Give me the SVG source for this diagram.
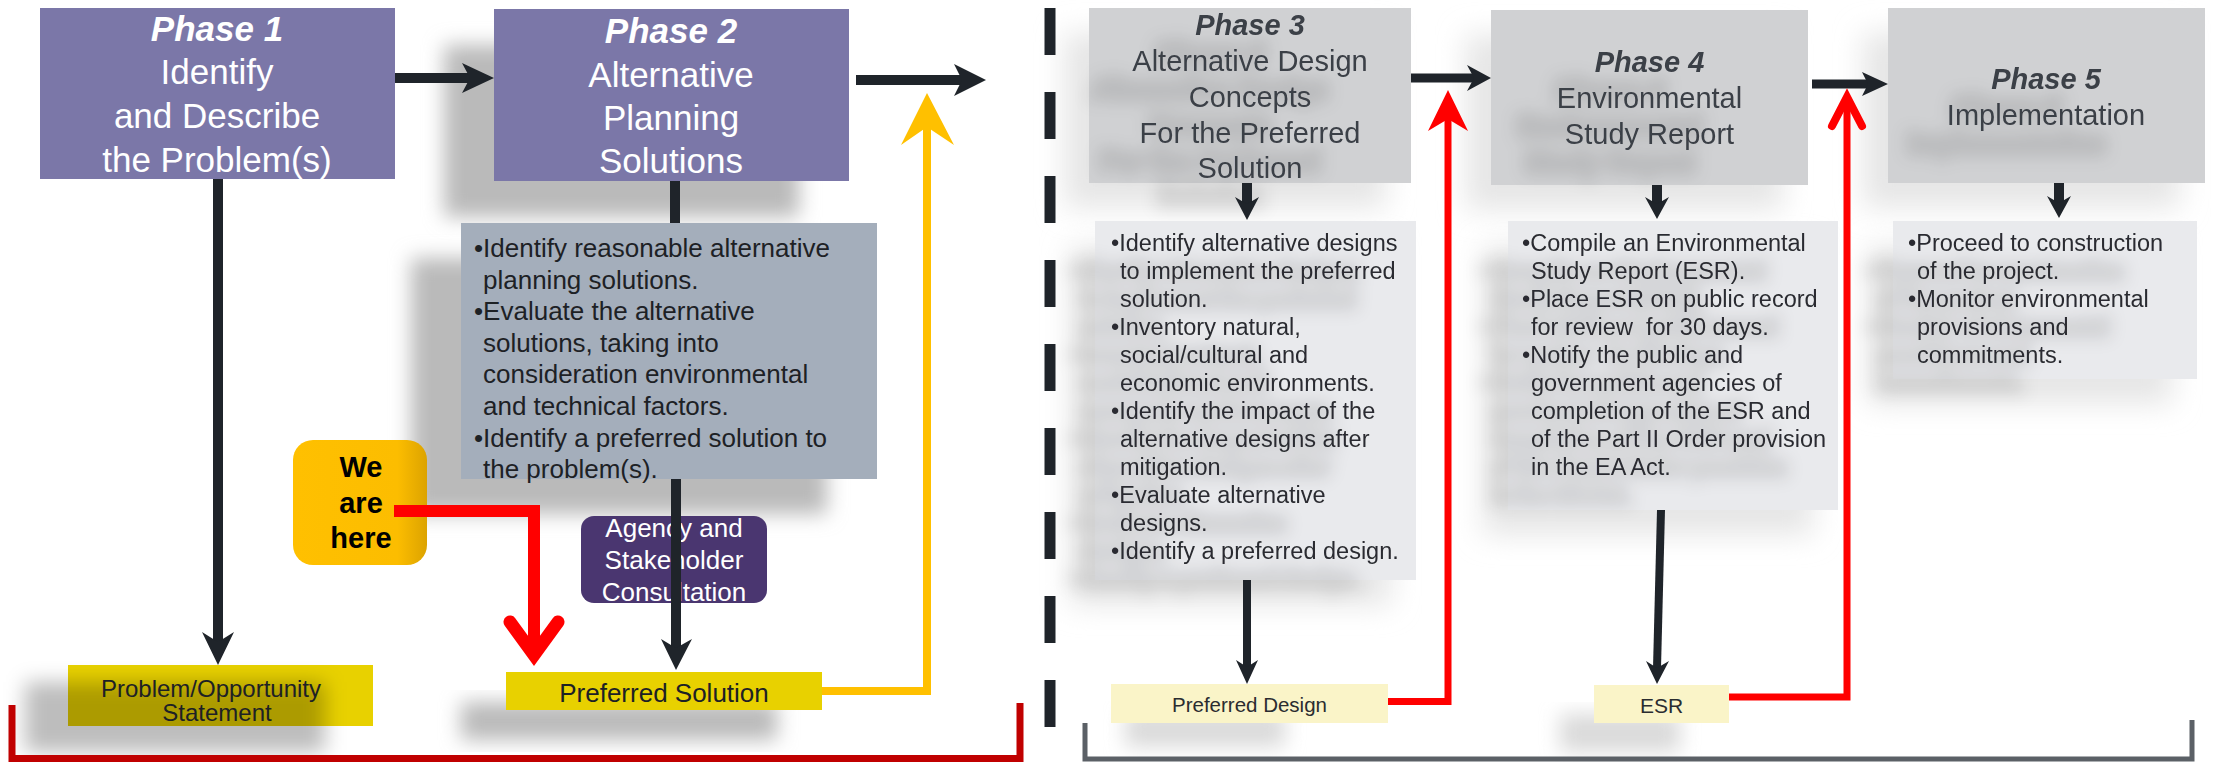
<svg xmlns="http://www.w3.org/2000/svg" width="2213" height="762" viewBox="0 0 2213 762">
<style>
text{font-family:"Liberation Sans",Arial,sans-serif}
.ttl{font-size:35px;fill:#ffffff;text-anchor:middle}
.ttl2{font-size:29px;fill:#3b3f46;text-anchor:middle}
.b{font-weight:bold;font-style:italic}
.body{font-size:26px;fill:#1d2125}
.rbody{font-size:23.5px;fill:#2a2c30}
.lbl{font-size:26px;fill:#1d2125;text-anchor:middle}
.dk{stroke:#1f242a;fill:none}
.dkf{fill:#1f242a}
.shd{fill:#bababa}
.shr{fill:#e6e6e6}
.shs{fill:#dadada}
</style>
<defs>
<filter id="bl" x="-30%" y="-30%" width="160%" height="160%"><feGaussianBlur stdDeviation="10"/></filter>
<filter id="bl2" x="-30%" y="-30%" width="160%" height="160%"><feGaussianBlur stdDeviation="14"/></filter>
<filter id="tsh" x="-30%" y="-50%" width="160%" height="250%">
<feMorphology in="SourceAlpha" operator="dilate" radius="4"/>
<feGaussianBlur stdDeviation="8"/>
<feOffset dx="-40" dy="28" result="b"/>
<feFlood flood-color="#000" flood-opacity="0.1"/>
<feComposite in2="b" operator="in"/>
<feMerge><feMergeNode/><feMergeNode in="SourceGraphic"/></feMerge>
</filter>
<linearGradient id="wg" x1="0" y1="0" x2="1" y2="0">
<stop offset="0" stop-color="#ffc000"/><stop offset="0.78" stop-color="#fcbd00"/><stop offset="1" stop-color="#dca300"/>
</linearGradient>
</defs>
<rect width="2213" height="762" fill="#ffffff"/>

<g id="shadows">
<rect class="shr" x="1064" y="33" width="322" height="175" filter="url(#bl2)"/>
<rect class="shr" x="1466" y="35" width="317" height="175" filter="url(#bl2)"/>
<rect class="shr" x="1863" y="33" width="317" height="175" filter="url(#bl2)"/>
<rect class="shr" x="1070" y="246" width="321" height="359" filter="url(#bl2)"/>
<rect class="shr" x="1483" y="246" width="330" height="289" filter="url(#bl2)"/>
<rect class="shr" x="1868" y="246" width="304" height="158" filter="url(#bl2)"/>
<rect class="shs" x="1125" y="712" width="160" height="35" filter="url(#bl)"/>
<rect class="shs" x="1560" y="714" width="120" height="38" filter="url(#bl)"/>
<rect class="shd" x="444" y="45" width="355" height="172" filter="url(#bl)"/>
<rect class="shd" x="411" y="258" width="416" height="256" filter="url(#bl)"/>
<rect class="shd" x="461" y="702" width="316" height="38" filter="url(#bl)"/>
</g>

<g id="divider">
<line x1="1050" y1="8" x2="1050" y2="728" stroke="#1f242a" stroke-width="11" stroke-dasharray="47 37"/>
</g>

<g id="phase1">
<rect x="40" y="8" width="355" height="171" fill="#7b77a8"/>
<text class="ttl b" x="217" y="41">Phase 1</text>
<text class="ttl" x="217" y="84">Identify</text>
<text class="ttl" x="217" y="128">and Describe</text>
<text class="ttl" x="217" y="172">the Problem(s)</text>
</g>

<g id="phase2">
<rect x="494" y="9" width="355" height="172" fill="#7b77a8"/>
<text class="ttl b" x="671" y="43">Phase 2</text>
<text class="ttl" x="671" y="87">Alternative</text>
<text class="ttl" x="671" y="130">Planning</text>
<text class="ttl" x="671" y="173">Solutions</text>
</g>

<g id="phase2-tasks">
<rect x="461" y="223" width="416" height="256" fill="#a4aebb"/>
<text class="body">
<tspan x="474" y="257">•Identify reasonable alternative</tspan>
<tspan x="483" y="288.6">planning solutions.</tspan>
<tspan x="474" y="320.2">•Evaluate the alternative</tspan>
<tspan x="483" y="351.8">solutions, taking into</tspan>
<tspan x="483" y="383.4">consideration environmental</tspan>
<tspan x="483" y="415">and technical factors.</tspan>
<tspan x="474" y="446.6">•Identify a preferred solution to</tspan>
<tspan x="483" y="478.2">the problem(s).</tspan>
</text>
</g>

<g id="we-are-here">
<rect x="293" y="440" width="134" height="125" rx="20" fill="url(#wg)"/>
<text x="361" y="477" font-size="29" font-weight="bold" text-anchor="middle" fill="#000">We</text>
<text x="361" y="513" font-size="29" font-weight="bold" text-anchor="middle" fill="#000">are</text>
<text x="361" y="548" font-size="29" font-weight="bold" text-anchor="middle" fill="#000">here</text>
</g>

<g id="agency">
<rect x="581" y="516" width="186" height="87" rx="13" fill="#4a3670"/>
<text x="674" y="537" font-size="26" text-anchor="middle" fill="#ffffff">Agency and</text>
<text x="674" y="569" font-size="26" text-anchor="middle" fill="#ffffff">Stakeholder</text>
<text x="674" y="601" font-size="26" text-anchor="middle" fill="#ffffff">Consultation</text>
</g>

<g id="problem-statement">
<rect x="68" y="665" width="305" height="61" fill="#e8d100"/>
<rect x="25" y="682" width="300" height="70" fill="#000" fill-opacity="0.26" filter="url(#bl)"/>
<text x="211" y="697" font-size="24" text-anchor="middle" fill="#1d2125">Problem/Opportunity</text>
<text x="217" y="721" font-size="24" text-anchor="middle" fill="#1d2125">Statement</text>
</g>

<g id="preferred-solution">
<rect x="506" y="672" width="316" height="38" fill="#e8d100"/>
<text class="lbl" x="664" y="702">Preferred Solution</text>
</g>

<g id="phase3">
<rect x="1089" y="8" width="322" height="175" fill="#d0d1d3"/>
<g filter="url(#tsh)">
<text class="ttl2 b" x="1250" y="35">Phase 3</text>
<text class="ttl2" x="1250" y="71">Alternative Design</text>
<text class="ttl2" x="1250" y="107">Concepts</text>
<text class="ttl2" x="1250" y="143">For the Preferred</text>
<text class="ttl2" x="1250" y="178">Solution</text>
</g>
</g>

<g id="phase4">
<rect x="1491" y="10" width="317" height="175" fill="#d0d1d3"/>
<g filter="url(#tsh)">
<text class="ttl2 b" x="1649.5" y="72">Phase 4</text>
<text class="ttl2" x="1649.5" y="108">Environmental</text>
<text class="ttl2" x="1649.5" y="144">Study Report</text>
</g>
</g>

<g id="phase5">
<rect x="1888" y="8" width="317" height="175" fill="#d0d1d3"/>
<g filter="url(#tsh)">
<text class="ttl2 b" x="2046" y="89">Phase 5</text>
<text class="ttl2" x="2046" y="125">Implementation</text>
</g>
</g>

<g id="phase3-tasks">
<rect x="1095" y="221" width="321" height="359" fill="#e9eaed"/>
<g filter="url(#tsh)">
<text class="rbody">
<tspan x="1111" y="251">•Identify alternative designs</tspan>
<tspan x="1120" y="279">to implement the preferred</tspan>
<tspan x="1120" y="307">solution.</tspan>
<tspan x="1111" y="335">•Inventory natural,</tspan>
<tspan x="1120" y="363">social/cultural and</tspan>
<tspan x="1120" y="391">economic environments.</tspan>
<tspan x="1111" y="419">•Identify the impact of the</tspan>
<tspan x="1120" y="447">alternative designs after</tspan>
<tspan x="1120" y="475">mitigation.</tspan>
<tspan x="1111" y="503">•Evaluate alternative</tspan>
<tspan x="1120" y="531">designs.</tspan>
<tspan x="1111" y="559">•Identify a preferred design.</tspan>
</text>
</g>
</g>

<g id="phase4-tasks">
<rect x="1508" y="221" width="330" height="289" fill="#e9eaed"/>
<g filter="url(#tsh)">
<text class="rbody">
<tspan x="1522" y="251">•Compile an Environmental</tspan>
<tspan x="1531" y="279">Study Report (ESR).</tspan>
<tspan x="1522" y="307">•Place ESR on public record</tspan>
<tspan x="1531" y="335" xml:space="preserve">for review  for 30 days.</tspan>
<tspan x="1522" y="363">•Notify the public and</tspan>
<tspan x="1531" y="391">government agencies of</tspan>
<tspan x="1531" y="419">completion of the ESR and</tspan>
<tspan x="1531" y="447">of the Part II Order provision</tspan>
<tspan x="1531" y="475">in the EA Act.</tspan>
</text>
</g>
</g>

<g id="phase5-tasks">
<rect x="1893" y="221" width="304" height="158" fill="#e9eaed"/>
<g filter="url(#tsh)">
<text class="rbody">
<tspan x="1908" y="251">•Proceed to construction</tspan>
<tspan x="1917" y="279">of the project.</tspan>
<tspan x="1908" y="307">•Monitor environmental</tspan>
<tspan x="1917" y="335">provisions and</tspan>
<tspan x="1917" y="363">commitments.</tspan>
</text>
</g>
</g>

<g id="preferred-design">
<rect x="1111" y="684" width="277" height="39" fill="#faf4c8"/>
<text x="1249.5" y="712" font-size="20.5" text-anchor="middle" fill="#2a2c30">Preferred Design</text>
</g>

<g id="esr">
<rect x="1594" y="685" width="135" height="38" fill="#faf4c8"/>
<text x="1661.5" y="713" font-size="21" text-anchor="middle" fill="#2a2c30">ESR</text>
</g>

<g id="connectors">
<line class="dk" x1="395" y1="78" x2="470" y2="78" stroke-width="10"/>
<polygon class="dkf" points="462,63 494,78 462,93 470,78"/>
<line class="dk" x1="856" y1="80" x2="962" y2="80" stroke-width="10"/>
<polygon class="dkf" points="954,64 986,80 954,96 962,80"/>
<line class="dk" x1="218" y1="179" x2="218" y2="645" stroke-width="10"/>
<polygon class="dkf" points="202,632 218,665 234,632 218,642"/>
<line class="dk" x1="675" y1="181" x2="675" y2="223" stroke-width="10"/>
<line class="dk" x1="676" y1="479" x2="676" y2="648" stroke-width="10"/>
<polygon class="dkf" points="661,639 676,670 692,639 676,648"/>
<polyline points="822,691 927,691 927,125" fill="none" stroke="#ffc000" stroke-width="8"/>
<polygon points="927,93 954,145 927,127 901,145" fill="#ffc000"/>
<polyline points="394,511 534,511 534,650" fill="none" stroke="#ff0000" stroke-width="12"/>
<polyline points="510,622 534,655 558,622" fill="none" stroke="#ff0000" stroke-width="13" stroke-linecap="round"/>
<line class="dk" x1="1411" y1="78" x2="1474" y2="78" stroke-width="9"/>
<polygon class="dkf" points="1467,65 1491,78 1467,91 1474,78"/>
<line class="dk" x1="1812" y1="84" x2="1868" y2="84" stroke-width="9"/>
<polygon class="dkf" points="1862,72 1888,84 1862,96 1868,84"/>
<line class="dk" x1="1247" y1="183" x2="1247" y2="205" stroke-width="10"/>
<polygon class="dkf" points="1235,197 1247,220 1259,197 1247,204"/>
<line class="dk" x1="1657" y1="185" x2="1657" y2="205" stroke-width="10"/>
<polygon class="dkf" points="1645,197 1657,219 1669,197 1657,204"/>
<line class="dk" x1="2059" y1="183" x2="2059" y2="204" stroke-width="10"/>
<polygon class="dkf" points="2047,196 2059,218 2071,196 2059,203"/>
<line class="dk" x1="1247" y1="580" x2="1247" y2="668" stroke-width="8"/>
<polygon class="dkf" points="1236,660 1247,684 1258,660 1247,667"/>
<line class="dk" x1="1661" y1="510" x2="1657" y2="668" stroke-width="8"/>
<polygon class="dkf" points="1646,661 1657,684 1669,661 1657,668"/>
<polyline points="1388,701.5 1448,701.5 1448,118" fill="none" stroke="#ff0000" stroke-width="7"/>
<polygon points="1448,90 1468,131 1448,119 1428,131" fill="#ff0000"/>
<polyline points="1729,697 1847,697 1847,100" fill="none" stroke="#ff0000" stroke-width="7"/>
<polyline points="1832,126 1847,97 1862,126" fill="none" stroke="#ff0000" stroke-width="8" stroke-linecap="round"/>
</g>

<g id="brackets">
<polyline points="12,705 12,758.5 1020,758.5 1020,703" fill="none" stroke="#c00000" stroke-width="7"/>
<polyline points="1085,723 1085,759 2192,759 2192,720" fill="none" stroke="#5b6066" stroke-width="5"/>
</g>
</svg>
